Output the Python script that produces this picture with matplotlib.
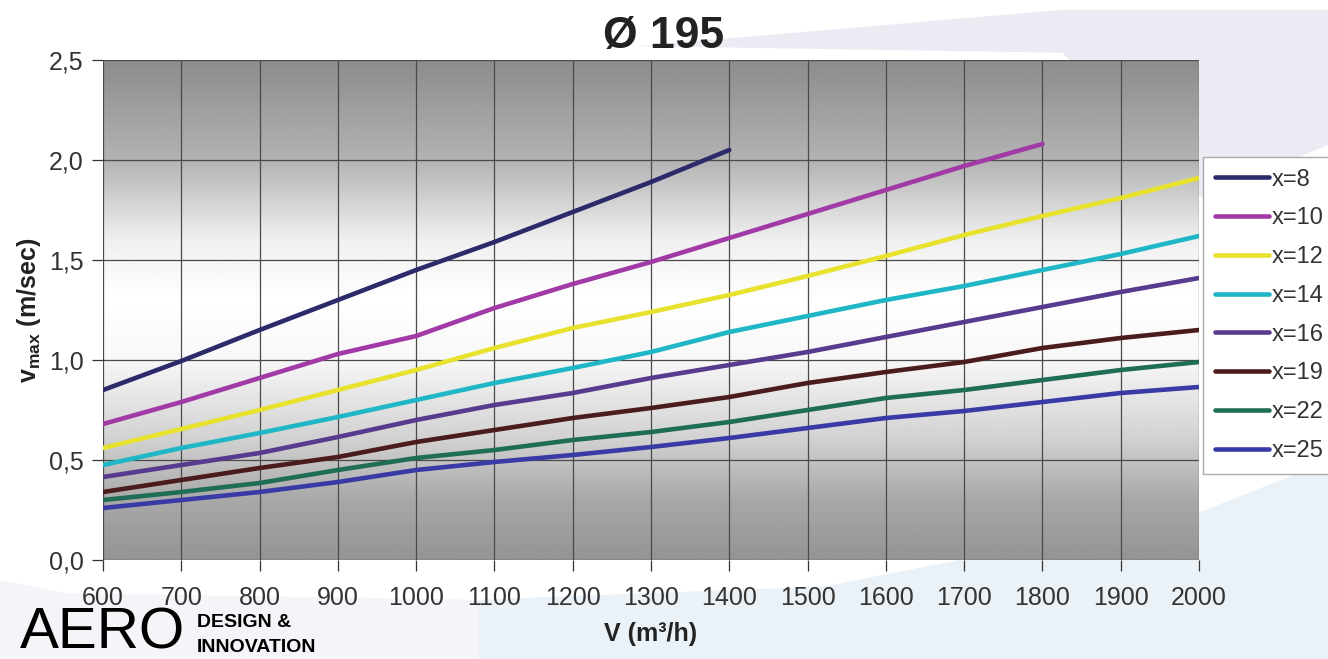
import matplotlib
matplotlib.use("Agg")
import matplotlib.pyplot as plt
import numpy as np
from matplotlib.patches import Polygon
from matplotlib.ticker import FuncFormatter

plt.rcParams["font.family"] = ["Liberation Sans", "DejaVu Sans"]
plt.rcParams["mathtext.fontset"] = "custom"
plt.rcParams["mathtext.rm"] = "Liberation Sans:bold"
plt.rcParams["mathtext.it"] = "Liberation Sans:bold"
plt.rcParams["mathtext.bf"] = "Liberation Sans:bold"

# Air flow (m3/h) and max velocity (m/sec) per throw distance x
flow = [600, 700, 800, 900, 1000, 1100, 1200, 1300, 1400,
        1500, 1600, 1700, 1800, 1900, 2000]
x8 = [0.85, 0.995, 1.15, 1.30, 1.45, 1.59, 1.74, 1.89, 2.05]
x10 = [0.68, 0.79, 0.91, 1.03, 1.12, 1.26, 1.38, 1.49, 1.61, 1.73, 1.85, 1.97, 2.08]
x12 = [0.56, 0.655, 0.75, 0.85, 0.95, 1.06, 1.16, 1.24, 1.325, 1.42, 1.52, 1.625, 1.72, 1.81, 1.91]
x14 = [0.475, 0.56, 0.635, 0.715, 0.80, 0.885, 0.96, 1.04, 1.14, 1.22, 1.30, 1.37, 1.45, 1.53, 1.62]
x16 = [0.415, 0.475, 0.535, 0.615, 0.70, 0.775, 0.835, 0.91, 0.975, 1.04, 1.115, 1.19, 1.265, 1.34, 1.41]
x19 = [0.34, 0.40, 0.46, 0.515, 0.59, 0.65, 0.71, 0.76, 0.815, 0.885, 0.94, 0.99, 1.06, 1.11, 1.15]
x22 = [0.30, 0.34, 0.385, 0.45, 0.51, 0.55, 0.60, 0.64, 0.69, 0.75, 0.81, 0.85, 0.90, 0.95, 0.99]
x25 = [0.26, 0.30, 0.34, 0.39, 0.45, 0.49, 0.525, 0.565, 0.61, 0.66, 0.71, 0.745, 0.79, 0.835, 0.865]

labels = ["x=8", "x=10", "x=12", "x=14", "x=16", "x=19", "x=22", "x=25"]
series = [x8, x10, x12, x14, x16, x19, x22, x25]
colors = ["#2d2a6c", "#a13aa6", "#e8e22e", "#1fb7c6", "#583a8e",
          "#4b1c1c", "#1f6d57", "#3a3aa6"]

fig = plt.figure(figsize=(13.28, 6.59), dpi=100)
fig.patch.set_facecolor("white")

# soft decorative background bands
bands = [
    ([[0.36, 0.0], [1.0, 0.0], [1.0, 0.30], [0.90, 0.22], [0.62, 0.11], [0.36, 0.09]], "#dde9f3", 0.6),
    ([[0.48, 0.93], [0.80, 0.985], [1.0, 0.985], [1.0, 0.78], [0.905, 0.70], [0.80, 0.92]], "#e4e2ee", 0.7),
    ([[0.0, 0.0], [0.36, 0.0], [0.36, 0.09], [0.05, 0.10], [0.0, 0.12]], "#efeff6", 0.6),
]
for pts, col, a in bands:
    fig.patches.append(Polygon(pts, closed=True, transform=fig.transFigure,
                               facecolor=col, edgecolor="none", alpha=a, zorder=-5))

ax = fig.add_axes([0.0776, 0.1502, 0.8253, 0.7588])
ax.set_zorder(1)

# vertical gray gradient in the plotting area
ys = np.linspace(0, 2.5, 300)
stops_y = [0.0, 0.3, 0.6, 1.0, 1.3, 1.6, 2.0, 2.5]
stops_v = [0.58, 0.66, 0.82, 0.97, 1.0, 0.94, 0.70, 0.55]
shade = np.interp(ys, stops_y, stops_v)
ax.imshow(shade[:, None], extent=[600, 2000, 0, 2.5], origin="lower",
          cmap="gray", vmin=0, vmax=1, aspect="auto", zorder=0)

for vals, lab, col in zip(series, labels, colors):
    ax.plot(flow[:len(vals)], vals, color=col, lw=3.3, label=lab,
            solid_capstyle="round", zorder=3)

ax.set_xlim(600, 2000)
ax.set_ylim(0, 2.5)
ax.set_xticks(flow)
ax.set_yticks([0.0, 0.5, 1.0, 1.5, 2.0, 2.5])
ax.yaxis.set_major_formatter(FuncFormatter(lambda v, p: f"{v:.1f}".replace(".", ",")))
ax.grid(True, color="#4a4a4a", lw=0.9, zorder=1)
ax.set_axisbelow(False)
for s in ax.spines.values():
    s.set_visible(False)
ax.tick_params(axis="both", labelsize=18, colors="#333333", length=8, width=0.9)
ax.tick_params(axis="y", pad=6)
ax.tick_params(axis="x", pad=11)

fig.text(0.5, 0.944, "Ø 195", fontsize=32, fontweight="bold", color="#222222",
         ha="center", va="center")
ax.set_xlabel("V (m³/h)", fontsize=18, fontweight="bold", color="#222222", labelpad=8)
ax.set_ylabel(r"v$_{\rm max}$ (m/sec)", fontsize=18, fontweight="bold",
              color="#222222", labelpad=4)

leg = ax.legend(loc="upper left", bbox_to_anchor=(0.906, 0.762),
                bbox_transform=fig.transFigure, fontsize=17, frameon=True,
                fancybox=False, edgecolor="#aaaaaa", framealpha=1,
                handlelength=2.3, handletextpad=0.1, labelspacing=0.71,
                borderpad=0.5, borderaxespad=0)
leg.get_frame().set_linewidth(1.0)
for t in leg.get_texts():
    t.set_color("#333333")

# company logo
fig.text(0.015, 0.016, "AERO", fontsize=42, color="black", ha="left", va="baseline")
fig.text(0.148, 0.048, "DESIGN &", fontsize=14, fontweight="bold",
         color="black", va="baseline")
fig.text(0.148, 0.010, "INNOVATION", fontsize=14, fontweight="bold",
         color="black", va="baseline")

fig.savefig("out.png", dpi=100)
